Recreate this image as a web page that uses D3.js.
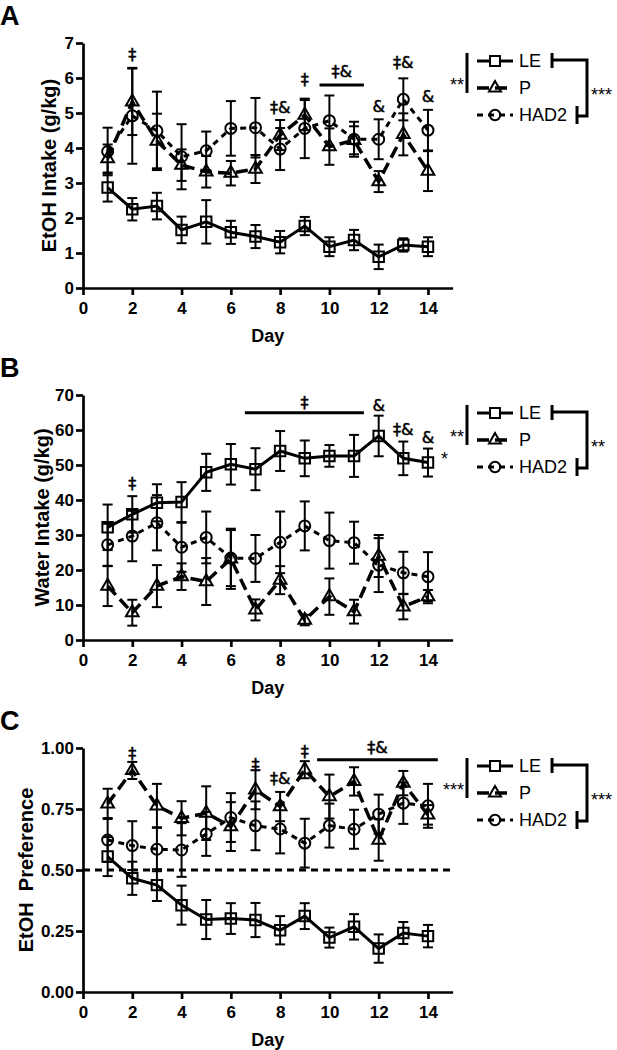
<!DOCTYPE html>
<meta charset="utf-8">
<head><title>EtOH and water intake by line</title>
<style>
body { margin: 0; background: #fff; }
svg { font-family: "Liberation Sans", Arial, sans-serif; }
.axis path, .axis line { stroke: #000; stroke-width: 2.7px; }
.axis text { font-size: 17px; font-weight: bold; fill: #000; font-family: "Liberation Sans", Arial, sans-serif; }
.err line { stroke: #000; stroke-width: 2px; }
.mark { fill: none; stroke: #000; stroke-width: 2px; }
.lbl { font-size: 18px; fill: #000; }
.sig { font-size: 16px; fill: #000; stroke: #000; stroke-width: 0.5px; font-family: "DejaVu Sans", sans-serif; }
</style>
<svg width="617" height="1050"></svg>
<script src="https://d3js.org/d3.v7.min.js"></script>
<script>

var days = [1, 2, 3, 4, 5, 6, 7, 8, 9, 10, 11, 12, 13, 14];
var dayTicks = [0, 2, 4, 6, 8, 10, 12, 14];
var groups = ["LE", "P", "HAD2"];

// A: EtOH intake (g/kg)
var leA     = [2.87, 2.25, 2.34, 1.66, 1.89, 1.59, 1.47, 1.31, 1.77, 1.18, 1.37, 0.89, 1.23, 1.18];
var leAErr  = [0.40, 0.32, 0.38, 0.38, 0.62, 0.33, 0.33, 0.32, 0.26, 0.27, 0.29, 0.35, 0.19, 0.27];
var pA      = [3.70, 5.32, 4.20, 3.51, 3.32, 3.28, 3.40, 4.37, 4.94, 4.04, 4.22, 3.04, 4.39, 3.34];
var pAErr   = [0.40, 0.95, 0.78, 0.45, 0.45, 0.35, 0.40, 0.43, 0.43, 0.52, 0.40, 0.30, 0.60, 0.57];
var hadA    = [3.90, 4.92, 4.49, 3.75, 3.92, 4.56, 4.58, 3.97, 4.56, 4.78, 4.25, 4.25, 5.39, 4.51];
var hadAErr = [0.68, 1.37, 1.12, 0.93, 0.55, 0.78, 0.85, 0.60, 0.85, 0.72, 0.50, 0.57, 0.60, 0.58];
var ticksA  = [0, 1, 2, 3, 4, 5, 6, 7];

// B: water intake (g/kg)
var leB     = [32.2, 35.9, 39.2, 39.4, 47.9, 50.2, 48.8, 54.0, 51.9, 52.6, 52.6, 58.3, 51.9, 50.7];
var leBErr  = [6.5, 5.2, 5.3, 5.7, 5.3, 5.8, 6.0, 5.7, 5.1, 3.1, 6.0, 5.8, 4.8, 4.0];
var pB      = [15.4, 7.8, 15.4, 18.1, 16.7, 23.2, 8.6, 17.1, 5.7, 12.4, 8.1, 24.0, 9.5, 12.4];
var pBErr   = [5.7, 3.7, 6.0, 3.8, 6.7, 8.6, 3.0, 4.0, 1.5, 5.2, 3.4, 6.0, 3.6, 1.9];
var hadB    = [27.2, 29.7, 33.5, 26.5, 29.3, 23.4, 23.3, 27.9, 32.6, 28.4, 27.8, 21.4, 19.2, 18.1];
var hadBErr = [6.0, 7.2, 7.9, 7.0, 7.4, 8.0, 6.7, 8.8, 7.0, 8.0, 6.0, 7.7, 6.0, 7.0];
var ticksB  = [0, 10, 20, 30, 40, 50, 60, 70];

// C: EtOH preference
var leC     = [0.555, 0.466, 0.438, 0.356, 0.297, 0.301, 0.295, 0.253, 0.311, 0.223, 0.267, 0.178, 0.242, 0.229];
var leCErr  = [0.080, 0.068, 0.065, 0.080, 0.080, 0.063, 0.070, 0.058, 0.053, 0.041, 0.052, 0.058, 0.045, 0.046];
var pC      = [0.771, 0.908, 0.763, 0.712, 0.733, 0.678, 0.829, 0.760, 0.911, 0.801, 0.863, 0.623, 0.856, 0.726];
var pCErr   = [0.062, 0.035, 0.090, 0.070, 0.110, 0.100, 0.080, 0.060, 0.035, 0.090, 0.058, 0.085, 0.050, 0.040];
var hadC    = [0.623, 0.600, 0.585, 0.582, 0.648, 0.715, 0.681, 0.668, 0.610, 0.682, 0.667, 0.729, 0.774, 0.763];
var hadCErr = [0.090, 0.100, 0.090, 0.110, 0.090, 0.100, 0.100, 0.100, 0.100, 0.090, 0.080, 0.080, 0.085, 0.090];
var ticksC  = [0, 0.25, 0.5, 0.75, 1.0];
var chanceC = 0.5;

// significance marks: day, value (y in data units), text
var sigA = [[2, 6.66, "‡"], [8, 5.14, "‡&"], [9, 5.94, "‡"], [12, 5.17, "&"], [13, 6.43, "‡&"], [14, 5.46, "&"]];
var barA = [9.6, 11.4, 5.8, 6.17, "‡&"];   // from day, to day, bar value, text value, text
var sigB = [[2, 44.6, "‡"], [12, 66.9, "&"], [13, 60.0, "‡&"], [14, 57.7, "&"]];
var barB = [6.57, 11.4, 64.9, 67.7, "‡"];
var sigC = [[2, 0.977, "‡"], [7, 0.931, "‡"], [8, 0.874, "‡&"], [9, 0.985, "‡"]];
var barC = [9.5, 14.4, 0.952, 1.0, "‡&"];

// legend stats: left bracket text, extra text, right bracket text
var statA = ["**", "", "***"];
var statB = ["**", "*", "**"];
var statC = ["***", "", "***"];

var svg = d3.select("svg");
var x = d3.scaleLinear().domain([0, 15]).range([83, 452.6]);

var lineStyle = {
  LE:   { dash: null,   width: 3,   sym: d3.symbolSquare,   size: 110 },
  P:    { dash: "12,6", width: 3.5, sym: d3.symbolTriangle, size: 70 },
  HAD2: { dash: "6,5",  width: 3,   sym: d3.symbolCircle,   size: 95 }
};

function drawPanel(p) {
  var y = d3.scaleLinear().domain([0, p.ticks[p.ticks.length - 1]]).range([p.bottom, p.top]);
  var g = svg.append("g");

  // letter
  g.append("text").attr("x", 0).attr("y", p.top - 18)
    .style("font-size", "27px").style("font-weight", "bold").text(p.letter);

  g.append("g").attr("class", "axis")
    .attr("transform", "translate(0," + p.bottom + ")")
    .call(d3.axisBottom(x).tickValues(dayTicks).tickSize(7).tickSizeOuter(0).tickPadding(7));
  g.append("g").attr("class", "axis")
    .attr("transform", "translate(" + x(0) + ",0)")
    .call(d3.axisLeft(y).tickValues(p.ticks).tickFormat(p.fmt).tickSize(7).tickSizeOuter(0).tickPadding(2));

  g.append("text").attr("x", (x(0) + x(15)) / 2).attr("y", p.bottom + 54)
    .attr("text-anchor", "middle").style("font-size", "18px").style("font-weight", "bold").text("Day");
  g.append("text")
    .attr("transform", "translate(" + p.labelX + "," + (p.top + p.bottom) / 2 + ") rotate(-90)")
    .attr("text-anchor", "middle").style("font-size", "20px").style("font-weight", "bold")
    .style("white-space", "pre").text(p.ylabel);

  if (p.chance != null) {
    g.append("line").attr("x1", x(0)).attr("x2", x(15))
      .attr("y1", y(p.chance)).attr("y2", y(p.chance))
      .attr("stroke", "#000").attr("stroke-width", 3).attr("stroke-dasharray", "7,5");
  }

  // series: HAD2 first, LE last
  [["HAD2", p.had, p.hadErr], ["P", p.p, p.pErr], ["LE", p.le, p.leErr]].forEach(function (s) {
    var st = lineStyle[s[0]], vals = s[1], errs = s[2];
    var pts = days.map(function (d, i) { return { d: d, v: vals[i], e: errs[i] }; });

    var eg = g.append("g").attr("class", "err");
    pts.forEach(function (q) {
      var cx = x(q.d);
      eg.append("line").attr("x1", cx).attr("x2", cx).attr("y1", y(q.v + q.e)).attr("y2", y(q.v - q.e));
      eg.append("line").attr("x1", cx - 5).attr("x2", cx + 5).attr("y1", y(q.v + q.e)).attr("y2", y(q.v + q.e));
      eg.append("line").attr("x1", cx - 5).attr("x2", cx + 5).attr("y1", y(q.v - q.e)).attr("y2", y(q.v - q.e));
    });

    g.append("path").datum(pts)
      .attr("fill", "none").attr("stroke", "#000").attr("stroke-width", st.width)
      .attr("stroke-dasharray", st.dash)
      .attr("d", d3.line().x(function (q) { return x(q.d); }).y(function (q) { return y(q.v); }));

    g.selectAll(null).data(pts).enter().append("path")
      .attr("class", "mark")
      .attr("transform", function (q) { return "translate(" + x(q.d) + "," + y(q.v) + ")"; })
      .attr("d", d3.symbol().type(st.sym).size(st.size));
  });

  // significance marks
  p.sig.forEach(function (s) {
    g.append("text").attr("class", "sig").attr("x", x(s[0])).attr("y", y(s[1]))
      .attr("dy", "0.32em").attr("text-anchor", "middle").text(s[2]);
  });
  var b = p.bar;
  g.append("line").attr("x1", x(b[0])).attr("x2", x(b[1])).attr("y1", y(b[2])).attr("y2", y(b[2]))
    .attr("stroke", "#000").attr("stroke-width", 3);
  g.append("text").attr("class", "sig").attr("x", x((b[0] + b[1]) / 2)).attr("y", y(b[3]))
    .attr("dy", "0.32em").attr("text-anchor", "middle").text(b[4]);

  // legend
  var rows = [p.top + 18, p.top + 45, p.top + 72];
  var ends = [];
  groups.forEach(function (name, i) {
    var st = lineStyle[name], ry = rows[i];
    g.append("line").attr("x1", 477).attr("x2", 513).attr("y1", ry).attr("y2", ry)
      .attr("stroke", "#000").attr("stroke-width", st.width).attr("stroke-dasharray", st.dash);
    g.append("path").attr("class", "mark")
      .attr("transform", "translate(495," + ry + ")")
      .style("fill", name == "LE" ? "#fff" : "none")
      .attr("d", d3.symbol().type(st.sym).size(st.size * 0.9));
    var t = g.append("text").attr("class", "lbl").attr("x", 519).attr("y", ry).attr("dy", "0.36em").text(name);
    ends.push(519 + t.node().getComputedTextLength());
  });

  // left bracket (LE vs P)
  g.append("line").attr("x1", 467).attr("x2", 467).attr("y1", rows[0] - 8).attr("y2", rows[1] + 5)
    .attr("stroke", "#000").attr("stroke-width", 3);
  g.append("text").attr("class", "lbl").attr("x", 464).attr("y", (rows[0] + rows[1]) / 2 + 6 + 10.5)
    .attr("text-anchor", "end").text(p.stat[0]);
  if (p.stat[1]) {
    g.append("text").attr("class", "lbl").attr("x", 448).attr("y", (rows[1] + rows[2]) / 2 + 1 + 10.5)
      .attr("text-anchor", "end").text(p.stat[1]);
  }

  // right bracket (LE vs HAD2)
  var t1 = ends[0] + 11, t3 = ends[2] + 10, rx = 587;
  g.append("path")
    .attr("d", "M" + t1 + "," + (rows[0] - 8) + "V" + (rows[0] + 7) +
               "M" + t1 + "," + (rows[0] - 1) + "H" + rx + "V" + (rows[2] + 1) + "H" + t3 +
               "M" + t3 + "," + (rows[2] - 9) + "V" + (rows[2] + 9))
    .attr("fill", "none").attr("stroke", "#000").attr("stroke-width", 3);
  g.append("text").attr("class", "lbl").attr("x", 591).attr("y", (rows[0] + rows[2]) / 2 + 2 + 10.5)
    .text(p.stat[2]);
}

drawPanel({ letter: "A", top: 43, bottom: 288, ticks: ticksA, fmt: d3.format("d"), labelX: 56,
  ylabel: "EtOH Intake (g/kg)", le: leA, leErr: leAErr, p: pA, pErr: pAErr, had: hadA, hadErr: hadAErr,
  sig: sigA, bar: barA, stat: statA });
drawPanel({ letter: "B", top: 395, bottom: 640, ticks: ticksB, fmt: d3.format("d"), labelX: 49,
  ylabel: "Water Intake (g/kg)", le: leB, leErr: leBErr, p: pB, pErr: pBErr, had: hadB, hadErr: hadBErr,
  sig: sigB, bar: barB, stat: statB });
drawPanel({ letter: "C", top: 748, bottom: 992, ticks: ticksC, fmt: d3.format(".2f"), labelX: 33,
  ylabel: "EtOH  Preference", le: leC, leErr: leCErr, p: pC, pErr: pCErr, had: hadC, hadErr: hadCErr,
  sig: sigC, bar: barC, stat: statC, chance: chanceC });

</script>
</head>
